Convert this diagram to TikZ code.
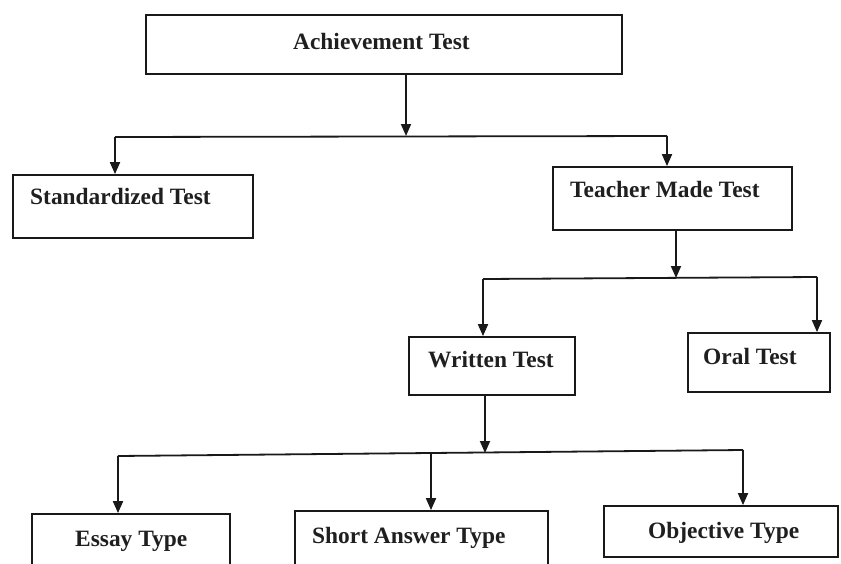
\documentclass[tikz,border=0pt]{standalone}
\usepackage{fontspec}
\setmainfont{Liberation Serif}
\usetikzlibrary{arrows.meta}
\begin{document}
\begin{tikzpicture}[x=1pt,y=-1pt,
  box/.style={draw=black!90, line width=1.8pt, rectangle, inner sep=0pt, fill=none},
  lbl/.style={inner sep=0pt, anchor=base west, text=black!88, font=\fontsize{23.4}{28}\selectfont\bfseries},
  conn/.style={draw=black!90, line width=1.8pt},
  arr/.style={conn, -{Triangle[length=12pt,width=10pt]}}]
\fill[white] (0,0) rectangle (841,563);
\useasboundingbox (0,0) rectangle (841,563);
\clip (0,0) rectangle (841,563);
% boxes
\node[box, minimum width=476pt, minimum height=59pt] (A) at (384,44.5) {};
\node[box, minimum width=240pt, minimum height=63pt] (S) at (133,206.5) {};
\node[box, minimum width=239pt, minimum height=63pt] (T) at (672.5,198.5) {};
\node[box, minimum width=166pt, minimum height=58pt] (W) at (492,366) {};
\node[box, minimum width=142pt, minimum height=59pt] (O) at (759,362.5) {};
\node[box, minimum width=198pt, minimum height=66pt] (E) at (131,547) {};
\node[box, minimum width=253pt, minimum height=69pt] (SA) at (421.5,545.5) {};
\node[box, minimum width=234pt, minimum height=51pt] (Ob) at (721,531.5) {};
% labels
\node[lbl] (tA) at (293,49) {Achievement Test};
\node[lbl] (tS) at (30,204) {Standardized Test};
\node[lbl] (tT) at (570,197) {Teacher Made Test};
\node[lbl] (tW) at (428,367) {Written Test};
\node[lbl] (tO) at (703,364) {Oral Test};
\node[lbl] (tE) at (75,546) {Essay Type};
\node[lbl] (tSA) at (312,543) {Short Answer Type};
\node[lbl] (tOb) at (648,538) {Objective Type};
% bus 1
\coordinate (b1) at (406,136);
\coordinate (b1l) at (115,137);
\coordinate (b1r) at (667,136);
\draw[arr] (A.south -| b1) -- (b1);
\draw[conn] (b1l) -- (b1r);
\draw[arr] (b1l) -- (S.north -| b1l);
\draw[arr] (b1r) -- (T.north -| b1r);
% bus 2
\coordinate (b2) at (676,278);
\coordinate (b2l) at (483,279);
\coordinate (b2r) at (817,277);
\draw[arr] (T.south -| b2) -- (b2);
\draw[conn] (b2l) -- (b2r);
\draw[arr] (b2l) -- (W.north -| b2l);
\draw[arr] (b2r) -- (O.north -| b2r);
% bus 3
\coordinate (b3) at (485,453);
\coordinate (b3l) at (118,456);
\coordinate (b3m) at (431,454);
\coordinate (b3r) at (743,450);
\draw[arr] (W.south -| b3) -- (b3);
\draw[conn] (b3l) -- (b3r);
\draw[arr] (b3l) -- (E.north -| b3l);
\draw[arr] (b3m) -- (SA.north -| b3m);
\draw[arr] (b3r) -- (Ob.north -| b3r);
\end{tikzpicture}
\end{document}
